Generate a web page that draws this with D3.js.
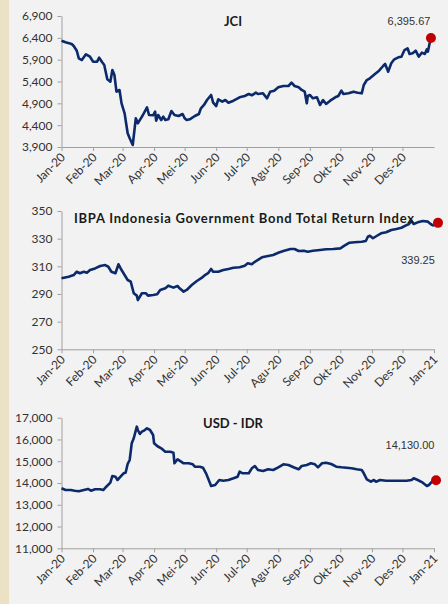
<!DOCTYPE html>
<html>
<head>
<meta charset="utf-8">
<script src="https://cdn.jsdelivr.net/npm/d3@7"></script>
<style>
  body { margin: 0; background: #f2f2f2; }
  svg { display: block; }
</style>
</head>
<body>
<div id="chart"></div>
<script>
// month labels for the x axis (Indonesian)
const monthLabels = ["Jan-20","Feb-20","Mar-20","Apr-20","Mei-20","Jun-20","Jul-20","Agu-20","Sep-20","Okt-20","Nov-20","Des-20","Jan-21"];

// [day since 1 Jan 2020, value]
const jciData = [[0,6335],[4,6298],[10,6259],[12,6213],[15,6105],[17,5931],[20,5892],[24,6023],[28,5968],[31,5854],[35,5854],[37,5945],[40,5840],[42,5778],[45,5450],[48,5396],[50,5663],[52,5549],[54,5167],[57,5205],[59,4900],[62,4672],[65,4214],[67,4099],[70,3946],[73,4557],[75,4443],[78,4557],[80,4633],[84,4809],[86,4633],[90,4626],[92,4710],[93,4502],[95,4633],[98,4518],[100,4594],[102,4518],[105,4534],[108,4725],[111,4633],[115,4610],[119,4656],[121,4557],[123,4518],[126,4534],[131,4610],[135,4656],[137,4786],[140,4862],[143,4976],[147,5091],[149,4915],[152,4839],[154,4992],[158,4938],[161,4976],[164,4915],[169,4961],[175,5038],[180,5068],[184,5114],[187,5084],[191,5144],[193,5114],[198,5129],[202,5015],[205,5167],[209,5190],[213,5267],[218,5297],[223,5297],[226,5373],[229,5297],[233,5267],[236,5206],[239,5167],[241,4900],[242,5068],[244,5091],[247,5015],[251,5038],[254,4862],[257,4976],[260,4885],[264,4961],[269,5038],[272,5068],[275,5190],[277,5114],[282,5129],[287,5167],[291,5144],[295,5129],[297,5320],[300,5434],[303,5473],[308,5572],[312,5647],[316,5755],[318,5801],[321,5625],[324,5817],[327,5908],[331,5954],[334,5968],[337,6121],[340,6160],[342,6030],[345,6046],[348,6105],[351,5968],[354,6060],[357,6030],[359,6137],[360,6083],[362,6312],[363,6395.67]];

const ibpaData = [[0,301.3],[7,302.5],[12,303.7],[15,306.1],[18,305],[22,306.1],[25,305.4],[28,307.3],[33,308.5],[38,310.2],[43,310.9],[46,309.7],[49,306.1],[53,305],[56,311.5],[59,307.3],[62,303.7],[65,300.1],[68,298.9],[71,290.5],[74,288.8],[75,285.6],[79,290.5],[83,290.5],[85,288.8],[90,289.3],[94,289.8],[97,292.9],[102,294.1],[105,296],[110,294.6],[114,295.8],[116,294.1],[120,291.7],[123,292.9],[128,296.5],[133,299.4],[138,301.8],[141,303.7],[144,305],[147,308.1],[149,306.1],[154,306.1],[159,307.3],[164,308.1],[169,309],[175,309.3],[180,310.4],[183,312.2],[187,311.5],[190,313.3],[193,314.6],[197,316.5],[203,317.5],[208,318.2],[213,319.8],[218,321.1],[225,322.5],[229,322.5],[233,321.1],[238,321.3],[242,320.6],[247,321.3],[254,321.8],[260,322.3],[267,322.5],[274,323],[278,324.9],[283,327.1],[288,327.4],[295,327.8],[299,328.3],[301,331.4],[303,332.1],[306,330.3],[310,332.1],[314,333.9],[319,334.6],[324,336.3],[329,337],[334,337.9],[338,339.4],[341,340.4],[344,342.8],[346,340.6],[350,341.8],[355,342.8],[360,342.3],[363,340.4],[366,339.25]];

const usdData = [[0,13757],[4,13678],[9,13678],[13,13646],[17,13619],[22,13678],[26,13725],[29,13646],[33,13711],[38,13711],[41,13678],[44,13830],[48,14014],[50,14322],[53,14290],[55,14138],[58,14290],[61,14446],[63,14473],[65,14873],[67,15057],[69,15824],[71,16054],[74,16587],[75,16435],[77,16251],[79,16357],[81,16403],[84,16513],[87,16435],[90,16205],[91,15824],[94,15700],[98,15594],[102,15438],[107,15438],[110,15392],[111,14905],[114,15089],[116,15025],[120,14905],[125,14905],[129,14859],[131,14749],[136,14749],[139,14703],[142,14446],[144,14216],[147,13862],[151,13908],[155,14138],[159,14106],[164,14138],[169,14216],[173,14290],[175,14519],[178,14446],[184,14446],[187,14675],[190,14781],[193,14597],[198,14551],[203,14630],[208,14597],[213,14721],[218,14859],[223,14827],[228,14721],[233,14630],[236,14781],[241,14827],[245,14905],[249,14859],[252,14721],[256,14905],[260,14933],[265,14873],[270,14749],[275,14721],[280,14703],[285,14675],[290,14630],[295,14597],[297,14446],[300,14170],[304,14060],[307,14138],[309,14060],[313,14138],[319,14106],[326,14106],[332,14106],[339,14106],[344,14138],[346,14216],[350,14138],[355,14014],[359,13862],[361,13908],[364,14060],[368,14130]];

const jciTicks = [3900,4400,4900,5400,5900,6400,6900];
const ibpaTicks = [250,270,290,310,330,350];
const usdTicks = [11000,12000,13000,14000,15000,16000,17000];

const W = 448, H = 604;
const start = new Date(2020, 0, 1);
const toDate = d => d3.timeDay.offset(start, d);
const monthDates = d3.range(13).map(i => new Date(2020, i, 1));

const svg = d3.select("#chart").append("svg")
  .attr("width", W)
  .attr("height", H);

svg.append("rect").attr("width", W).attr("height", H).attr("fill", "#f2f2f2");
svg.append("rect").attr("width", 9).attr("height", H).attr("fill", "#ebe1c4");

const x = d3.scaleTime()
  .domain([start, new Date(2021, 0, 1)])
  .range([61.5, 434]);

function panel(opt) {
  const g = svg.append("g");
  const y = d3.scaleLinear().domain(opt.domain).range([opt.bottom, opt.top]);

  //Y axis
  const ya = g.append("g")
    .attr("transform", "translate(61.5,0)")
    .call(d3.axisLeft(y).tickValues(opt.ticks).tickSize(4).tickSizeOuter(0).tickFormat(d3.format(",")));
  ya.selectAll("text")
    .attr("x", -9)
    .style("font-family", "Lato")
    .style("font-size", "12px")
    .attr("fill", "#333");

  //X axis
  const xa = g.append("g")
    .attr("transform", `translate(0,${opt.bottom})`)
    .call(d3.axisBottom(x).tickValues(monthDates.slice(0, opt.nTicks)).tickSize(4).tickSizeOuter(0)
      .tickFormat((d, i) => monthLabels[i]));
  xa.selectAll("text")
    .attr("y", 0)
    .attr("dy", 0)
    .attr("text-anchor", "end")
    .attr("transform", "translate(4,11) rotate(-45)")
    .style("font-family", "Lato")
    .style("font-size", "12px")
    .attr("fill", "#333");

  g.selectAll(".domain, .tick line").attr("stroke", "#a0a0a0");

  //Line
  g.append("path")
    .datum(opt.data)
    .attr("fill", "none")
    .attr("stroke", "#0c2a6b")
    .attr("stroke-width", 2.6)
    .attr("stroke-linejoin", "round")
    .attr("d", d3.line().x(d => x(toDate(d[0]))).y(d => y(d[1])));

  const last = opt.data[opt.data.length - 1];
  g.append("circle")
    .attr("cx", x(toDate(last[0])) + (opt.dotDx || 0))
    .attr("cy", y(last[1]) + (opt.dotDy || 0))
    .attr("r", 5)
    .attr("fill", "#c00000");

  const title = g.append("text")
    .attr("x", opt.titleX)
    .attr("y", opt.titleY)
    .attr("text-anchor", "middle")
    .style("font-family", "Lato")
    .style("font-weight", "bold")
    .style("font-size", "13px")
    .attr("fill", "#1a1a1a")
    .text(opt.title);
  if (opt.titleLen) title.attr("textLength", opt.titleLen).attr("lengthAdjust", "spacing");

  g.append("text")
    .attr("x", opt.labelX)
    .attr("y", opt.labelY)
    .attr("text-anchor", "middle")
    .style("font-family", "Liberation Sans")
    .style("font-size", "11px")
    .attr("fill", "#333")
    .text(opt.label);
}

panel({data: jciData, domain: [3900, 6900], ticks: jciTicks, top: 16, bottom: 147, nTicks: 12,
  title: "JCI", titleX: 233, titleY: 26, label: "6,395.67", labelX: 409, labelY: 25});
panel({data: ibpaData, domain: [250, 350], ticks: ibpaTicks, top: 211, bottom: 349.3, nTicks: 13,
  title: "IBPA Indonesia Government Bond Total Return Index", titleX: 244, titleY: 223, titleLen: 340,
  label: "339.25", labelX: 418, labelY: 264, dotDx: 4, dotDy: -3});
panel({data: usdData, domain: [11000, 17000], ticks: usdTicks, top: 417.7, bottom: 548.3, nTicks: 13,
  title: "USD - IDR", titleX: 233, titleY: 428, label: "14,130.00", labelX: 410, labelY: 449});
</script>
</body>
</html>
